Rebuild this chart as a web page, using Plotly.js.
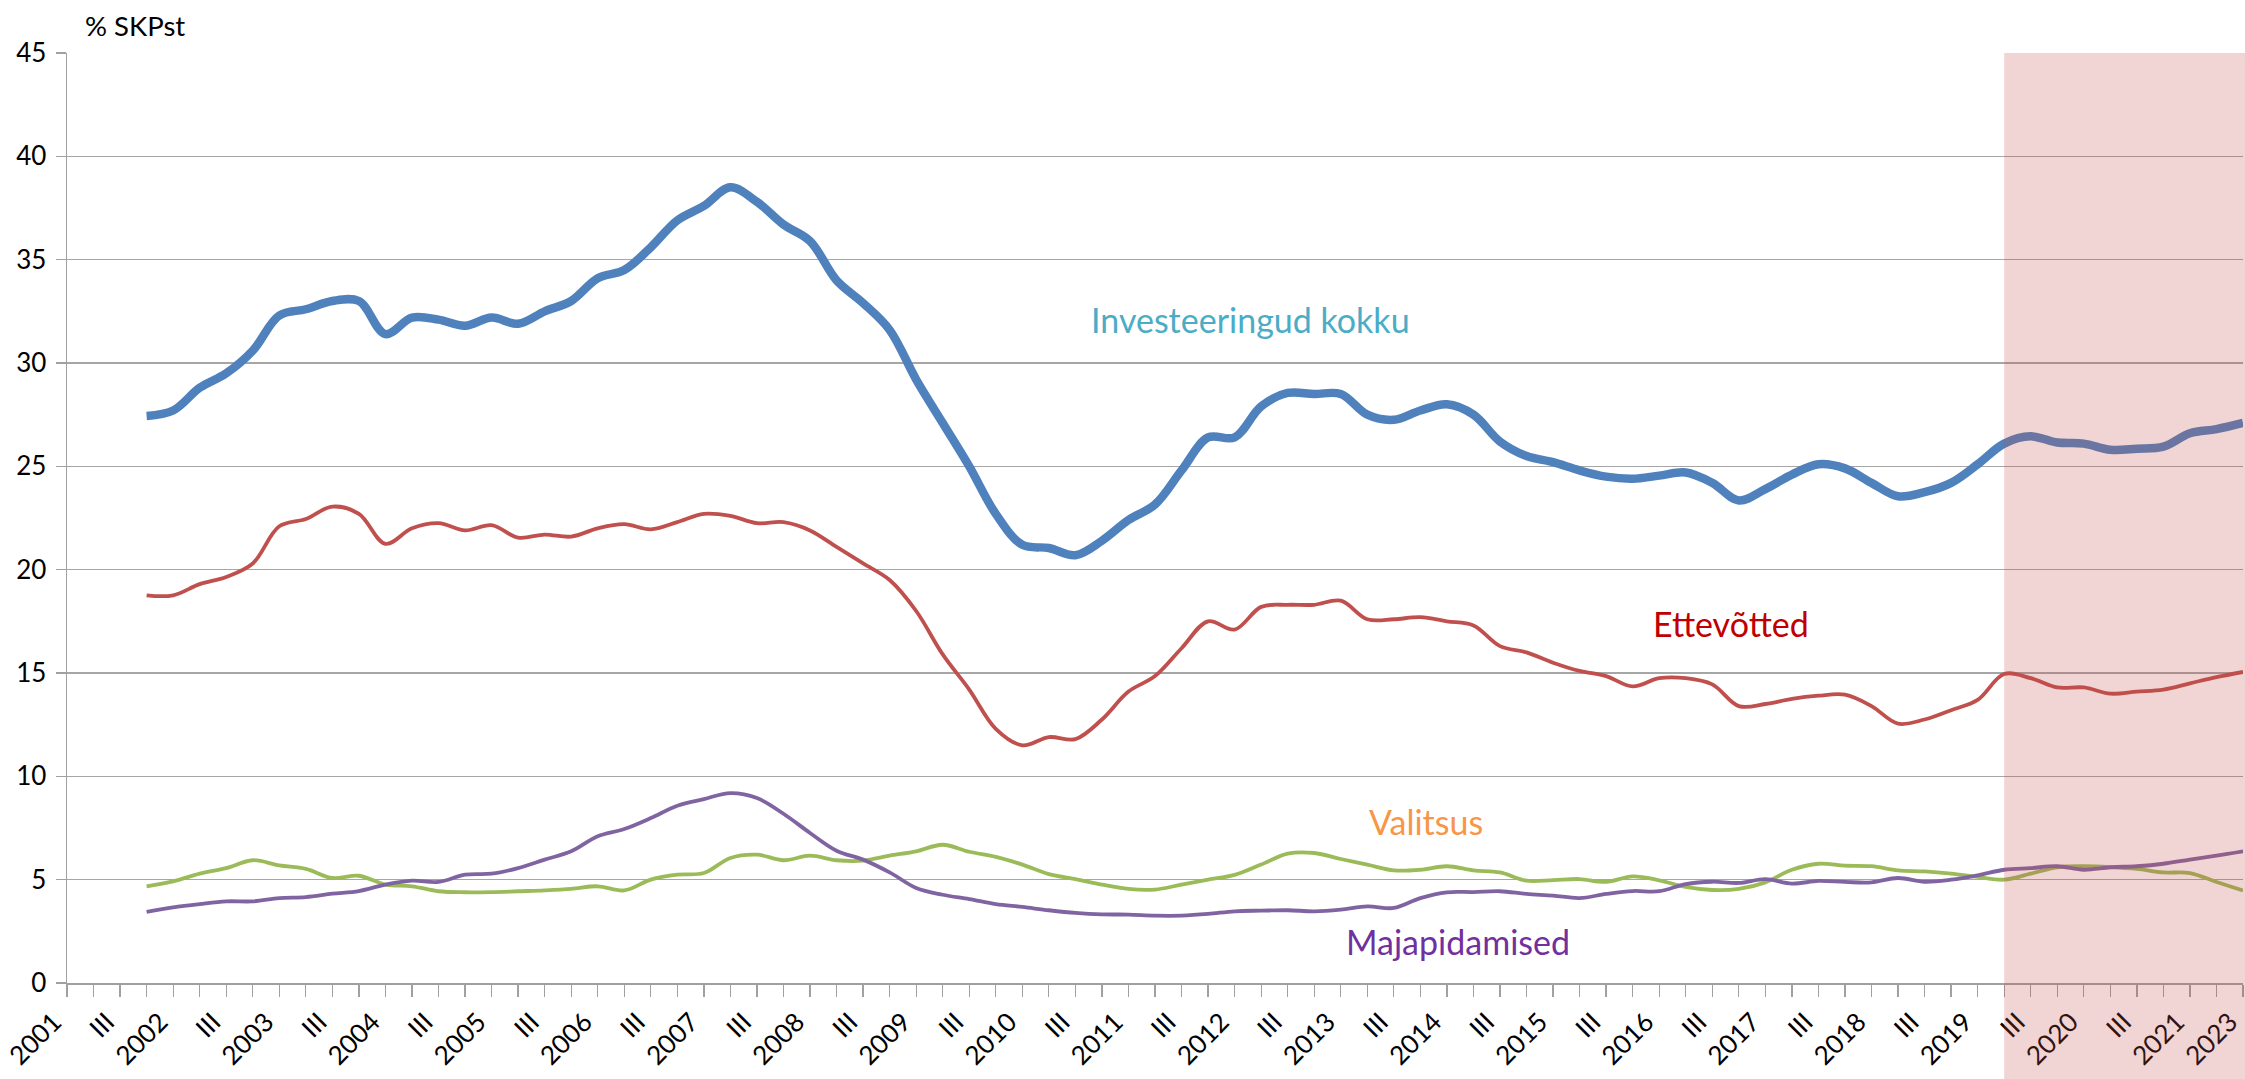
<!DOCTYPE html>
<html>
<head>
<meta charset="utf-8">
<script src="https://cdn.plot.ly/plotly-3.0.1.min.js"></script>
<style>
  html, body { margin: 0; padding: 0; background: #ffffff; }
  #chart { width: 2245px; height: 1079px; }
</style>
</head>
<body>
<div id="chart"></div>
<script>
// Quarterly categories (category axis)
const categories = [
  "2001-I","2001-II","2001-III","2001-IV","2002-I","2002-II","2002-III","2002-IV",
  "2003-I","2003-II","2003-III","2003-IV","2004-I","2004-II","2004-III","2004-IV",
  "2005-I","2005-II","2005-III","2005-IV","2006-I","2006-II","2006-III","2006-IV",
  "2007-I","2007-II","2007-III","2007-IV","2008-I","2008-II","2008-III","2008-IV",
  "2009-I","2009-II","2009-III","2009-IV","2010-I","2010-II","2010-III","2010-IV",
  "2011-I","2011-II","2011-III","2011-IV","2012-I","2012-II","2012-III","2012-IV",
  "2013-I","2013-II","2013-III","2013-IV","2014-I","2014-II","2014-III","2014-IV",
  "2015-I","2015-II","2015-III","2015-IV","2016-I","2016-II","2016-III","2016-IV",
  "2017-I","2017-II","2017-III","2017-IV","2018-I","2018-II","2018-III","2018-IV",
  "2019-I","2019-II","2019-III","2019-IV","2020-I","2020-II","2020-III","2020-IV",
  "2021-I","2021-II","2021-III"
];

// Tick labels as shown on the axis (one per category, blank = tick only)
const tickLabels = [
  "2001","","III","","2002","","III","","2003","","III","","2004","","III","",
  "2005","","III","","2006","","III","","2007","","III","","2008","","III","",
  "2009","","III","","2010","","III","","2011","","III","","2012","","III","",
  "2013","","III","","2014","","III","","2015","","III","","2016","","III","",
  "2017","","III","","2018","","III","","2019","","III","","2020","","III","",
  "2021","","2023"
];

const seriesStart = "2001-IV";
const forecastStart = "2019-II";

// % of GDP
const investeeringud = [
  27.44, 27.7, 28.8, 29.5, 30.6, 32.3, 32.6, 33.0, 33.0, 31.4,
  32.2, 32.1, 31.8, 32.2, 31.9, 32.5, 33.0, 34.1, 34.5, 35.6,
  36.9, 37.6, 38.5, 37.8, 36.7, 35.9, 34.0, 32.9, 31.6, 29.2,
  27.1, 25.0, 22.7, 21.2, 21.05, 20.7, 21.4, 22.4, 23.15, 24.8,
  26.4, 26.4, 27.9, 28.55, 28.5, 28.5, 27.5, 27.25, 27.7, 28.0,
  27.5, 26.2, 25.5, 25.2, 24.8, 24.5, 24.4, 24.55, 24.7, 24.2,
  23.35, 23.9, 24.6, 25.1, 24.9, 24.2, 23.55, 23.75, 24.2, 25.1,
  26.1, 26.45, 26.15, 26.1, 25.8, 25.85, 25.95, 26.6, 26.8, 27.1
];
const ettevotted = [
  18.76, 18.76, 19.3, 19.65, 20.3, 22.1, 22.45, 23.05, 22.7, 21.25,
  22.0, 22.25, 21.9, 22.15, 21.55, 21.7, 21.6, 22.0, 22.2, 21.95,
  22.3, 22.7, 22.6, 22.25, 22.3, 21.9, 21.1, 20.3, 19.5, 18.0,
  15.9, 14.2, 12.3, 11.5, 11.9, 11.8, 12.75, 14.1, 14.85, 16.2,
  17.5, 17.1, 18.2, 18.3, 18.3, 18.5, 17.6, 17.6, 17.7, 17.5,
  17.3, 16.3, 16.0, 15.5, 15.1, 14.85, 14.35, 14.75, 14.75, 14.45,
  13.4, 13.5, 13.75, 13.9, 13.95, 13.4, 12.55, 12.75, 13.2, 13.7,
  14.95, 14.75, 14.3, 14.3, 14.0, 14.1, 14.2, 14.5, 14.8, 15.05
];
const valitsus = [
  4.68, 4.92, 5.29, 5.56, 5.94, 5.69, 5.52, 5.08, 5.19, 4.76,
  4.68, 4.44, 4.39, 4.40, 4.44, 4.48, 4.55, 4.68, 4.48, 5.0,
  5.24, 5.32, 6.05, 6.21, 5.94, 6.16, 5.94, 5.92, 6.16, 6.37,
  6.69, 6.35, 6.1, 5.73, 5.27, 5.03, 4.76, 4.55, 4.52, 4.76,
  5.0, 5.23, 5.73, 6.26, 6.29, 6.0, 5.73, 5.45, 5.48, 5.65,
  5.45, 5.35, 4.95, 4.98, 5.03, 4.89, 5.16, 4.97, 4.65, 4.5,
  4.55, 4.87, 5.48, 5.77, 5.68, 5.65, 5.45, 5.4, 5.29, 5.13,
  5.0, 5.29, 5.6, 5.65, 5.61, 5.52, 5.35, 5.32, 4.89, 4.48
];
const majapidamised = [
  3.44, 3.66, 3.82, 3.95, 3.95, 4.11, 4.16, 4.32, 4.45, 4.76,
  4.95, 4.89, 5.24, 5.29, 5.56, 5.97, 6.37, 7.1, 7.45, 7.98,
  8.58, 8.9, 9.19, 8.95, 8.19, 7.26, 6.4, 5.97, 5.35, 4.6,
  4.27, 4.06, 3.82, 3.68, 3.52, 3.39, 3.32, 3.31, 3.26, 3.26,
  3.34, 3.47, 3.5, 3.52, 3.47, 3.55, 3.71, 3.63, 4.11, 4.39,
  4.4, 4.44, 4.31, 4.23, 4.11, 4.31, 4.45, 4.44, 4.79, 4.9,
  4.84, 5.03, 4.81, 4.94, 4.89, 4.87, 5.08, 4.9, 5.0, 5.21,
  5.48, 5.56, 5.65, 5.48, 5.6, 5.65, 5.77, 5.97, 6.16, 6.37
];

const seriesNames = ["Investeeringud kokku", "Ettevõtted", "Valitsus", "Majapidamised"];
const labelColors = ["#4BACC6", "#C00000", "#F79646", "#7030A0"];

const xs = categories.slice(categories.indexOf(seriesStart));
const FONT = "Lato, 'Open Sans', sans-serif";

function line(y, name, color, width) {
  return {
    type: "scatter", mode: "lines", x: xs, y: y, name: name,
    line: { color: color, width: width, shape: "spline", smoothing: 1 },
    hoverinfo: "x+y+name"
  };
}

const traces = [
  line(investeeringud, seriesNames[0], "#4F81BD", 8.5),
  line(ettevotted, seriesNames[1], "#C0504D", 3.8),
  line(valitsus, seriesNames[2], "#9BBB59", 3.8),
  line(majapidamised, seriesNames[3], "#8064A2", 3.8)
];

const nCat = categories.length;
const fIdx = categories.indexOf(forecastStart);

const W = 2245, H = 1079;
const M = { l: 66.5, r: 2, t: 52.5, b: 96 };
const plotH = H - M.t - M.b;
const plotW = W - M.l - M.r;

const layout = {
  width: W, height: H,
  margin: M,
  paper_bgcolor: "#ffffff",
  plot_bgcolor: "#ffffff",
  showlegend: false,
  font: { family: FONT, size: 26, color: "#000000" },
  xaxis: {
    type: "category",
    categoryorder: "array",
    categoryarray: categories,
    range: [0, nCat - 1],
    tickmode: "array",
    tickvals: categories,
    ticktext: tickLabels,
    tickangle: -45,
    ticklabelshift: -13,
    ticks: "outside",
    ticklen: 12,
    tickwidth: 1.3,
    tickcolor: "#a0a0a0",
    showline: true,
    linecolor: "#a0a0a0",
    linewidth: 1.5,
    showgrid: false,
    zeroline: false,
    tickfont: { family: FONT, size: 26, color: "#000000" },
    fixedrange: true
  },
  yaxis: {
    range: [0, 45],
    tickmode: "linear",
    tick0: 0,
    dtick: 5,
    ticks: "outside",
    ticklen: 10,
    tickwidth: 1.3,
    tickcolor: "#a0a0a0",
    showline: true,
    linecolor: "#a0a0a0",
    linewidth: 1.5,
    showgrid: true,
    gridcolor: "#a6a6a6",
    gridwidth: 1.3,
    zeroline: false,
    ticklabelstandoff: 4,
    tickfont: { family: FONT, size: 26, color: "#000000" },
    fixedrange: true
  },
  shapes: [
    {
      type: "rect", xref: "paper", yref: "paper", layer: "above",
      x0: fIdx / (nCat - 1), x1: 1 + M.r / plotW,
      y0: -M.b / plotH, y1: 1,
      fillcolor: "rgba(192,80,77,0.24)",
      line: { width: 0 }
    }
  ],
  annotations: [
    { xref: "paper", yref: "paper", x: 16.5 / plotW, y: 1 + 27.5 / plotH,
      xanchor: "left", yanchor: "middle", showarrow: false,
      text: "% SKPst", font: { family: FONT, size: 27.5, color: "#000000" } },
    { xref: "x", yref: "y", x: 44.6, y: 32.1, showarrow: false,
      text: seriesNames[0], font: { family: FONT, size: 34, color: labelColors[0] } },
    { xref: "x", yref: "y", x: 62.7, y: 17.4, showarrow: false,
      text: seriesNames[1], font: { family: FONT, size: 34, color: labelColors[1] } },
    { xref: "x", yref: "y", x: 51.2, y: 7.8, showarrow: false,
      text: seriesNames[2], font: { family: FONT, size: 34, color: labelColors[2] } },
    { xref: "x", yref: "y", x: 52.4, y: 2.0, showarrow: false,
      text: seriesNames[3], font: { family: FONT, size: 34, color: labelColors[3] } }
  ]
};

Plotly.newPlot("chart", traces, layout, { displayModeBar: false, staticPlot: true });
</script>
</body>
</html>
